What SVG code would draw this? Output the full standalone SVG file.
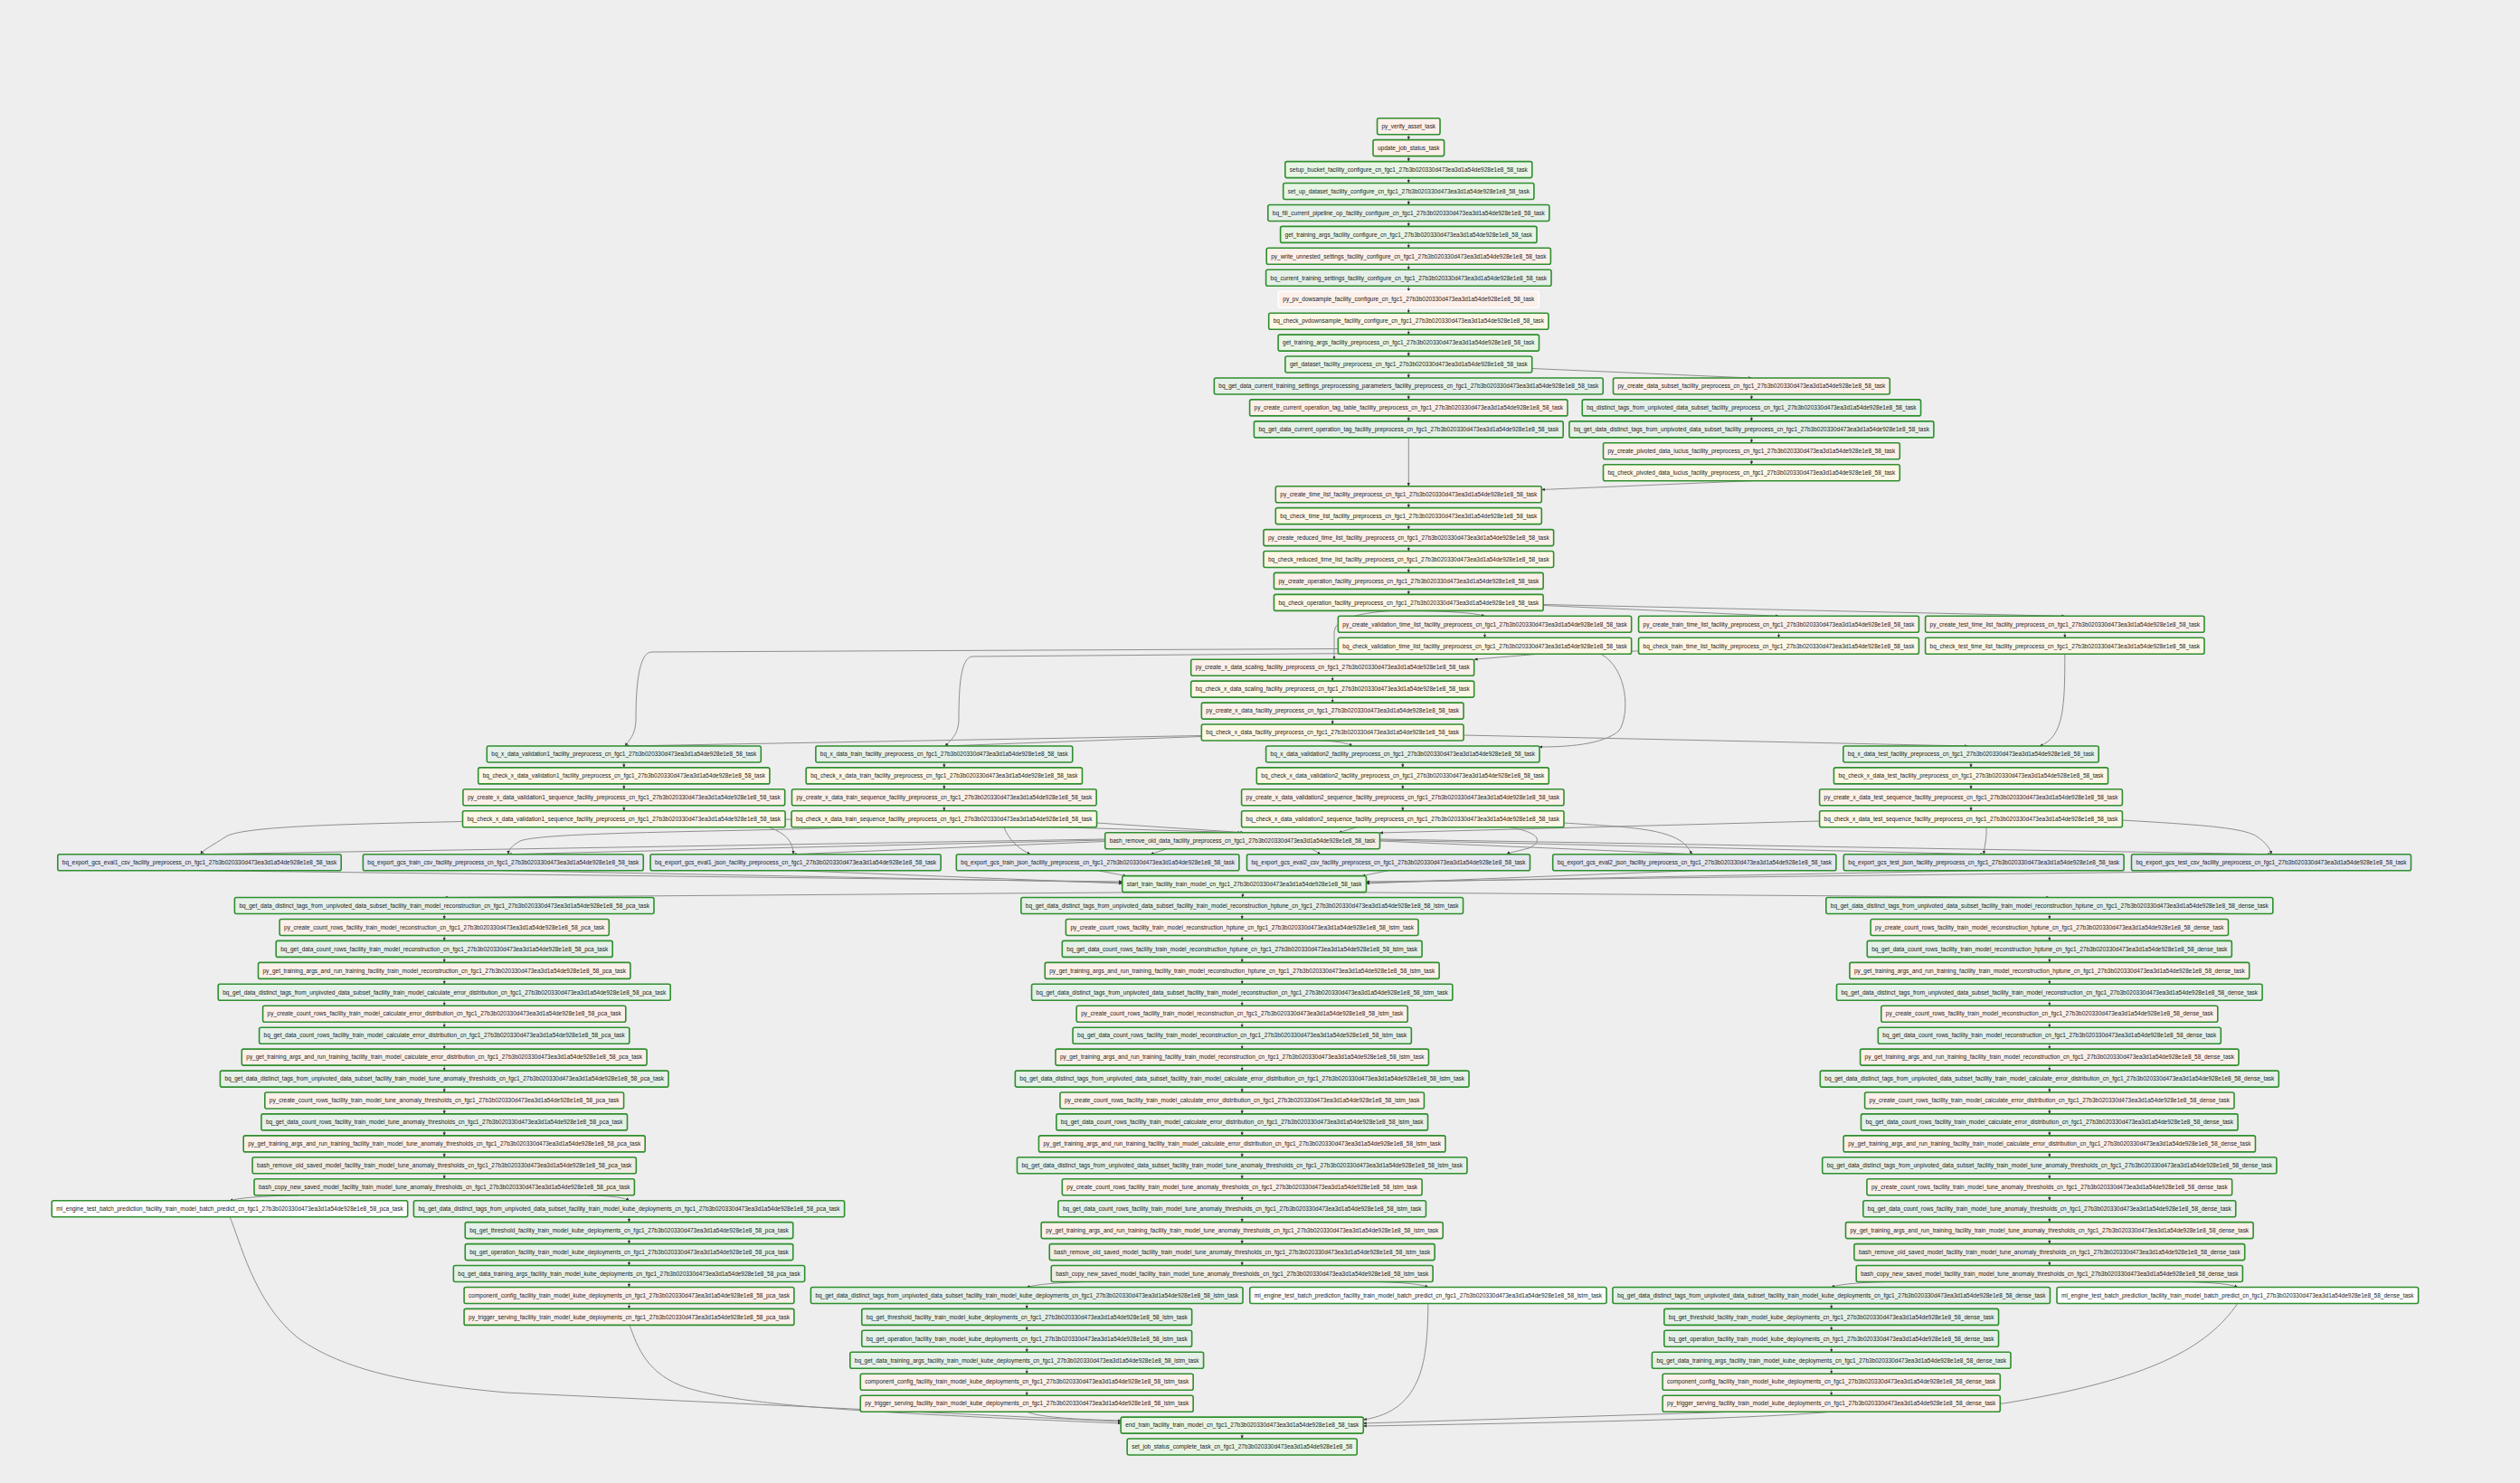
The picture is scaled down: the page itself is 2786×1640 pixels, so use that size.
<svg xmlns="http://www.w3.org/2000/svg" width="2786" height="1640" viewBox="0 0 2786 1640">
<style>
.bg{fill:#eeeeee}
.n rect{stroke:#2f8f2f;stroke-width:1.6;rx:2;ry:2}
.n text{font-family:"Liberation Sans",Arial,sans-serif;font-size:6.4px;fill:#222;text-anchor:middle}
.py rect{fill:#fdefe9}.bq rect{fill:#e5f0e8}.ck rect{fill:#fef7e6}.ex rect{fill:#e4e6f0}.sh rect{fill:#f0ede4}.dm rect{fill:#e8f5e4}.ml rect{fill:#ffffff}
.ns rect{stroke:#ffffff}
#edges path{fill:none;stroke:#8e8e8e;stroke-width:1;marker-end:url(#ah)}
</style>
<defs>
<marker id="ah" viewBox="0 0 10 10" refX="9" refY="5" markerWidth="4" markerHeight="4" markerUnits="userSpaceOnUse" orient="auto"><path d="M0,1 L10,5 L0,9 z" fill="#333"/></marker>
</defs>
<rect class="bg" x="0" y="0" width="2786" height="1640"/>
<g id="edges">
<path d="M1557.3,148.7 L1557.3,154.6"/>
<path d="M1557.3,172.6 L1557.3,178.6"/>
<path d="M1557.3,196.6 L1557.3,202.5"/>
<path d="M1557.3,220.5 L1557.3,226.5"/>
<path d="M1557.3,244.5 L1557.3,250.4"/>
<path d="M1557.3,268.4 L1557.3,274.3"/>
<path d="M1557.3,292.3 L1557.3,298.3"/>
<path d="M1557.3,316.3 L1557.3,322.2"/>
<path d="M1557.3,340.2 L1557.3,346.2"/>
<path d="M1557.3,364.2 L1557.3,370.1"/>
<path d="M1557.3,388.1 L1557.3,394"/>
<path d="M1557.3,412 L1557.3,418"/>
<path d="M1693.7,407.5 L1936.4,418"/>
<path d="M1557.3,436 L1557.3,441.9"/>
<path d="M1557.3,459.9 L1557.3,465.9"/>
<path d="M1557.3,483.9 L1557.3,537.7"/>
<path d="M1936.4,436 L1936.4,441.9"/>
<path d="M1936.4,459.9 L1936.4,465.9"/>
<path d="M1936.4,483.9 L1936.4,489.8"/>
<path d="M1936.4,507.8 L1936.4,513.7"/>
<path d="M1936.4,531.7 L1704.3,541.5"/>
<path d="M1557.3,555.7 L1557.3,561.6"/>
<path d="M1557.3,579.6 L1557.3,585.6"/>
<path d="M1557.3,603.6 L1557.3,609.5"/>
<path d="M1557.3,627.5 L1557.3,633.4"/>
<path d="M1557.3,651.4 L1557.3,657.4"/>
<path d="M1557.3,675.4 Q1625,676 1641.5,681.3"/>
<path d="M1706.2,669.5 L1966.5,681.3"/>
<path d="M1706.2,668.5 L2282.8,681.3"/>
<path d="M1540,675.4 C1495,678 1475,686 1475,700 L1475,729.2"/>
<path d="M1641.5,699.3 L1641.5,705.3"/>
<path d="M1966.5,699.3 L1966.5,705.3"/>
<path d="M2282.8,699.3 L2282.8,705.3"/>
<path d="M1479.3,717.5 L720,721 C706,722 703,760 703,795 C703,813 695,819 691,825"/>
<path d="M1811.5,720 L1075,726 C1062,727 1060,760 1060,795 C1060,813 1050,819 1045,825"/>
<path d="M1770,723.3 C1800,740 1802,790 1790,808 C1772,824 1730,826 1701.7,826"/>
<path d="M1700,723.3 L1630,729.2"/>
<path d="M2282.8,723.3 C2282.8,780 2282,815 2255,825"/>
<path d="M1473.2,747.2 L1473.2,753.1"/>
<path d="M1473.2,771.1 L1473.2,777.1"/>
<path d="M1473.2,795.1 L1473.2,801"/>
<path d="M1328.4,813.5 L691.3,825"/>
<path d="M1328.4,814.5 L1044.9,825"/>
<path d="M1460,819 Q1488,820 1495,825"/>
<path d="M1617.6,813 L2175.5,825"/>
<path d="M689.8,843 L689.8,848.9"/>
<path d="M689.8,866.9 L689.8,872.8"/>
<path d="M689.8,890.8 L689.8,896.8"/>
<path d="M1043.8,843 L1043.8,848.9"/>
<path d="M1043.8,866.9 L1043.8,872.8"/>
<path d="M1043.8,890.8 L1043.8,896.8"/>
<path d="M1550.8,843 L1550.8,848.9"/>
<path d="M1550.8,866.9 L1550.8,872.8"/>
<path d="M1550.8,890.8 L1550.8,896.8"/>
<path d="M2179,843 L2179,848.9"/>
<path d="M2179,866.9 L2179,872.8"/>
<path d="M2179,890.8 L2179,896.8"/>
<path d="M868.1,906 L1372,920.7"/>
<path d="M1212.5,910 L1375,920.7"/>
<path d="M1500,914.8 L1480,920.7"/>
<path d="M2011.6,908 L1525.5,921"/>
<path d="M511.5,908.5 C400,911 270,913 250,925 C235,935 224,940 222,944.7"/>
<path d="M950,914.8 C800,920 600,920 575,930 C565,936 562,940 562,944.7"/>
<path d="M850,914.8 C870,922 877,932 877,944.7"/>
<path d="M1110,914.8 C1115,928 1125,938 1139,944.7"/>
<path d="M1669,914.8 C1700,920 1708,930 1690,938 C1675,942 1668,943 1666,944.7"/>
<path d="M1729,910 C1800,915 1860,915 1870,944.7"/>
<path d="M2196,914.8 C2197,925 2194,935 2193.2,944.7"/>
<path d="M2346.4,907 C2430,912 2480,915 2495,925 C2505,932 2510,938 2511,944.7"/>
<path d="M1221.7,928 L222,944.7"/>
<path d="M1221.7,929 L562,944.7"/>
<path d="M1221.7,930.5 L877,944.7"/>
<path d="M1290,938.7 L1272,944.7"/>
<path d="M1450,938.7 L1460,944.7"/>
<path d="M1525.5,930 L1873,944.7"/>
<path d="M1525.5,929 L2193,944.7"/>
<path d="M1525.5,928 L2511,944.7"/>
<path d="M220.5,962.7 L1240.7,975"/>
<path d="M556.3,962.7 L1240.7,976"/>
<path d="M879.6,962.7 L1240.7,977"/>
<path d="M1213.6,962.7 L1245,968.6"/>
<path d="M1535,962.7 L1506,968.6"/>
<path d="M1873.3,962.7 L1510.5,977"/>
<path d="M2193.2,962.7 L1510.5,976"/>
<path d="M2511,962.7 L1510.5,975"/>
<path d="M1290,986.6 L491.2,992.5"/>
<path d="M1374.5,986.6 L1373.4,992.5"/>
<path d="M1460,986.6 L2265.8,992.5"/>
<path d="M491.2,1010.5 L491.2,1016.5"/>
<path d="M491.2,1034.5 L491.2,1040.4"/>
<path d="M491.2,1058.4 L491.2,1064.4"/>
<path d="M491.2,1082.4 L491.2,1088.3"/>
<path d="M491.2,1106.3 L491.2,1112.2"/>
<path d="M491.2,1130.2 L491.2,1136.2"/>
<path d="M491.2,1154.2 L491.2,1160.1"/>
<path d="M491.2,1178.1 L491.2,1184.1"/>
<path d="M491.2,1202.1 L491.2,1208"/>
<path d="M491.2,1226 L491.2,1231.9"/>
<path d="M491.2,1249.9 L491.2,1255.9"/>
<path d="M491.2,1273.9 L491.2,1279.8"/>
<path d="M491.2,1297.8 L491.2,1303.8"/>
<path d="M330,1321.8 Q270,1323 254,1327.7"/>
<path d="M650,1321.8 Q690,1323 695.5,1327.7"/>
<path d="M695.5,1345.7 L695.5,1351.6"/>
<path d="M695.5,1369.6 L695.5,1375.6"/>
<path d="M695.5,1393.6 L695.5,1399.5"/>
<path d="M695.5,1417.5 L695.5,1423.5"/>
<path d="M695.5,1441.5 L695.5,1447.4"/>
<path d="M254,1345.7 C265,1370 280,1440 330,1480 C380,1515 450,1530 560,1540 L1239.2,1572"/>
<path d="M696,1465.4 C705,1490 715,1520 760,1535 C820,1552 900,1560 1239.2,1574"/>
<path d="M1373.2,1010.5 L1373.2,1016.5"/>
<path d="M1373.2,1034.5 L1373.2,1040.4"/>
<path d="M1373.2,1058.4 L1373.2,1064.4"/>
<path d="M1373.2,1082.4 L1373.2,1088.3"/>
<path d="M1373.2,1106.3 L1373.2,1112.2"/>
<path d="M1373.2,1130.2 L1373.2,1136.2"/>
<path d="M1373.2,1154.2 L1373.2,1160.1"/>
<path d="M1373.2,1178.1 L1373.2,1184.1"/>
<path d="M1373.2,1202.1 L1373.2,1208"/>
<path d="M1373.2,1226 L1373.2,1231.9"/>
<path d="M1373.2,1249.9 L1373.2,1255.9"/>
<path d="M1373.2,1273.9 L1373.2,1279.8"/>
<path d="M1373.2,1297.8 L1373.2,1303.8"/>
<path d="M1373.2,1321.8 L1373.2,1327.7"/>
<path d="M1373.2,1345.7 L1373.2,1351.6"/>
<path d="M1373.2,1369.6 L1373.2,1375.6"/>
<path d="M1373.2,1393.6 L1373.2,1399.5"/>
<path d="M1200,1417.5 Q1150,1419 1135.2,1423.5"/>
<path d="M1525,1417.5 Q1570,1419 1578.9,1423.5"/>
<path d="M1135.2,1441.5 L1135.2,1447.4"/>
<path d="M1135.2,1465.4 L1135.2,1471.3"/>
<path d="M1135.2,1489.3 L1135.2,1495.3"/>
<path d="M1135.2,1513.3 L1135.2,1519.2"/>
<path d="M1135.2,1537.2 L1135.2,1543.2"/>
<path d="M1135.2,1561.2 C1150,1568 1200,1570 1239.2,1571"/>
<path d="M1578.9,1441.5 C1578,1500 1575,1560 1507.2,1570"/>
<path d="M2265.8,1010.5 L2265.8,1016.5"/>
<path d="M2265.8,1034.5 L2265.8,1040.4"/>
<path d="M2265.8,1058.4 L2265.8,1064.4"/>
<path d="M2265.8,1082.4 L2265.8,1088.3"/>
<path d="M2265.8,1106.3 L2265.8,1112.2"/>
<path d="M2265.8,1130.2 L2265.8,1136.2"/>
<path d="M2265.8,1154.2 L2265.8,1160.1"/>
<path d="M2265.8,1178.1 L2265.8,1184.1"/>
<path d="M2265.8,1202.1 L2265.8,1208"/>
<path d="M2265.8,1226 L2265.8,1231.9"/>
<path d="M2265.8,1249.9 L2265.8,1255.9"/>
<path d="M2265.8,1273.9 L2265.8,1279.8"/>
<path d="M2265.8,1297.8 L2265.8,1303.8"/>
<path d="M2265.8,1321.8 L2265.8,1327.7"/>
<path d="M2265.8,1345.7 L2265.8,1351.6"/>
<path d="M2265.8,1369.6 L2265.8,1375.6"/>
<path d="M2265.8,1393.6 L2265.8,1399.5"/>
<path d="M2085,1417.5 Q2035,1419 2024.7,1423.5"/>
<path d="M2420,1417.5 Q2465,1419 2473.8,1423.5"/>
<path d="M2024.7,1441.5 L2024.7,1447.4"/>
<path d="M2024.7,1465.4 L2024.7,1471.3"/>
<path d="M2024.7,1489.3 L2024.7,1495.3"/>
<path d="M2024.7,1513.3 L2024.7,1519.2"/>
<path d="M2024.7,1537.2 L2024.7,1543.2"/>
<path d="M2473.8,1441.5 C2440,1490 2380,1525 2215,1552 L1507.2,1574"/>
<path d="M2024.7,1561.2 C1950,1568 1800,1572 1507.2,1577"/>
<path d="M1373.2,1585.1 L1373.2,1591"/>
</g>
<g id="py_verify_asset_task" class="n py"><rect x="1522.55" y="130.7" width="69.5" height="18"/><text x="1557.3" y="141.9" textLength="59.5" lengthAdjust="spacingAndGlyphs">py_verify_asset_task</text></g>
<g id="update_job_status_task" class="n py"><rect x="1518" y="154.6" width="78.6" height="18"/><text x="1557.3" y="165.8" textLength="68.6" lengthAdjust="spacingAndGlyphs">update_job_status_task</text></g>
<g id="setup_bucket" class="n dm"><rect x="1420.8" y="178.6" width="273" height="18"/><text x="1557.3" y="189.8" textLength="263" lengthAdjust="spacingAndGlyphs">setup_bucket_facility_configure_cn_fgc1_27b3b020330d473ea3d1a54de928e1e8_58_task</text></g>
<g id="set_up_dataset" class="n dm"><rect x="1418.7" y="202.5" width="277.2" height="18"/><text x="1557.3" y="213.7" textLength="267.2" lengthAdjust="spacingAndGlyphs">set_up_dataset_facility_configure_cn_fgc1_27b3b020330d473ea3d1a54de928e1e8_58_task</text></g>
<g id="bq_fill_current_pipeline_op" class="n bq"><rect x="1401.8" y="226.5" width="311" height="18"/><text x="1557.3" y="237.7" textLength="301" lengthAdjust="spacingAndGlyphs">bq_fill_current_pipeline_op_facility_configure_cn_fgc1_27b3b020330d473ea3d1a54de928e1e8_58_task</text></g>
<g id="get_training_args_configure" class="n dm"><rect x="1415.6" y="250.4" width="283.4" height="18"/><text x="1557.3" y="261.6" textLength="273.4" lengthAdjust="spacingAndGlyphs">get_training_args_facility_configure_cn_fgc1_27b3b020330d473ea3d1a54de928e1e8_58_task</text></g>
<g id="py_write_unnested_settings" class="n py"><rect x="1400.2" y="274.3" width="314.2" height="18"/><text x="1557.3" y="285.5" textLength="304.2" lengthAdjust="spacingAndGlyphs">py_write_unnested_settings_facility_configure_cn_fgc1_27b3b020330d473ea3d1a54de928e1e8_58_task</text></g>
<g id="bq_current_training_settings" class="n bq"><rect x="1399.6" y="298.3" width="315.4" height="18"/><text x="1557.3" y="309.5" textLength="305.4" lengthAdjust="spacingAndGlyphs">bq_current_training_settings_facility_configure_cn_fgc1_27b3b020330d473ea3d1a54de928e1e8_58_task</text></g>
<g id="py_pv_downsample" class="n py ns"><rect x="1413.35" y="322.2" width="287.9" height="18"/><text x="1557.3" y="333.4" textLength="277.9" lengthAdjust="spacingAndGlyphs">py_pv_dowsample_facility_configure_cn_fgc1_27b3b020330d473ea3d1a54de928e1e8_58_task</text></g>
<g id="bq_check_pvdownsample" class="n ck"><rect x="1402.7" y="346.2" width="309.2" height="18"/><text x="1557.3" y="357.4" textLength="299.2" lengthAdjust="spacingAndGlyphs">bq_check_pvdownsample_facility_configure_cn_fgc1_27b3b020330d473ea3d1a54de928e1e8_58_task</text></g>
<g id="get_training_args_preprocess" class="n dm"><rect x="1413.1" y="370.1" width="288.4" height="18"/><text x="1557.3" y="381.3" textLength="278.4" lengthAdjust="spacingAndGlyphs">get_training_args_facility_preprocess_cn_fgc1_27b3b020330d473ea3d1a54de928e1e8_58_task</text></g>
<g id="get_dataset" class="n dm"><rect x="1420.9" y="394" width="272.8" height="18"/><text x="1557.3" y="405.2" textLength="262.8" lengthAdjust="spacingAndGlyphs">get_dataset_facility_preprocess_cn_fgc1_27b3b020330d473ea3d1a54de928e1e8_58_task</text></g>
<g id="bq_get_data_current_training_settings" class="n bq"><rect x="1342.35" y="418" width="429.9" height="18"/><text x="1557.3" y="429.2" textLength="419.9" lengthAdjust="spacingAndGlyphs">bq_get_data_current_training_settings_preprocessing_parameters_facility_preprocess_cn_fgc1_27b3b020330d473ea3d1a54de928e1e8_58_task</text></g>
<g id="py_create_data_subset" class="n py"><rect x="1783.5" y="418" width="305.8" height="18"/><text x="1936.4" y="429.2" textLength="295.8" lengthAdjust="spacingAndGlyphs">py_create_data_subset_facility_preprocess_cn_fgc1_27b3b020330d473ea3d1a54de928e1e8_58_task</text></g>
<g id="py_create_current_operation_tag_table" class="n py"><rect x="1381.6" y="441.9" width="351.4" height="18"/><text x="1557.3" y="453.1" textLength="341.4" lengthAdjust="spacingAndGlyphs">py_create_current_operation_tag_table_facility_preprocess_cn_fgc1_27b3b020330d473ea3d1a54de928e1e8_58_task</text></g>
<g id="bq_distinct_tags" class="n bq"><rect x="1749.25" y="441.9" width="374.3" height="18"/><text x="1936.4" y="453.1" textLength="364.3" lengthAdjust="spacingAndGlyphs">bq_distinct_tags_from_unpivoted_data_subset_facility_preprocess_cn_fgc1_27b3b020330d473ea3d1a54de928e1e8_58_task</text></g>
<g id="bq_get_data_current_operation_tag" class="n bq"><rect x="1386.4" y="465.9" width="341.8" height="18"/><text x="1557.3" y="477.1" textLength="331.8" lengthAdjust="spacingAndGlyphs">bq_get_data_current_operation_tag_facility_preprocess_cn_fgc1_27b3b020330d473ea3d1a54de928e1e8_58_task</text></g>
<g id="bq_get_data_distinct_tags_preprocess" class="n bq"><rect x="1734.9" y="465.9" width="403" height="18"/><text x="1936.4" y="477.1" textLength="393" lengthAdjust="spacingAndGlyphs">bq_get_data_distinct_tags_from_unpivoted_data_subset_facility_preprocess_cn_fgc1_27b3b020330d473ea3d1a54de928e1e8_58_task</text></g>
<g id="py_create_pivoted_data_lucius" class="n py"><rect x="1772.5" y="489.8" width="327.8" height="18"/><text x="1936.4" y="501" textLength="317.8" lengthAdjust="spacingAndGlyphs">py_create_pivoted_data_lucius_facility_preprocess_cn_fgc1_27b3b020330d473ea3d1a54de928e1e8_58_task</text></g>
<g id="bq_check_pivoted_data_lucius" class="n ck"><rect x="1772.5" y="513.7" width="327.8" height="18"/><text x="1936.4" y="524.9" textLength="317.8" lengthAdjust="spacingAndGlyphs">bq_check_pivoted_data_lucius_facility_preprocess_cn_fgc1_27b3b020330d473ea3d1a54de928e1e8_58_task</text></g>
<g id="py_create_time_list" class="n py"><rect x="1410.3" y="537.7" width="294" height="18"/><text x="1557.3" y="548.9" textLength="284" lengthAdjust="spacingAndGlyphs">py_create_time_list_facility_preprocess_cn_fgc1_27b3b020330d473ea3d1a54de928e1e8_58_task</text></g>
<g id="bq_check_time_list" class="n ck"><rect x="1410.3" y="561.6" width="294" height="18"/><text x="1557.3" y="572.8" textLength="284" lengthAdjust="spacingAndGlyphs">bq_check_time_list_facility_preprocess_cn_fgc1_27b3b020330d473ea3d1a54de928e1e8_58_task</text></g>
<g id="py_create_reduced_time_list" class="n py"><rect x="1396.95" y="585.6" width="320.7" height="18"/><text x="1557.3" y="596.8" textLength="310.7" lengthAdjust="spacingAndGlyphs">py_create_reduced_time_list_facility_preprocess_cn_fgc1_27b3b020330d473ea3d1a54de928e1e8_58_task</text></g>
<g id="bq_check_reduced_time_list" class="n ck"><rect x="1396.95" y="609.5" width="320.7" height="18"/><text x="1557.3" y="620.7" textLength="310.7" lengthAdjust="spacingAndGlyphs">bq_check_reduced_time_list_facility_preprocess_cn_fgc1_27b3b020330d473ea3d1a54de928e1e8_58_task</text></g>
<g id="py_create_operation" class="n py"><rect x="1408.45" y="633.4" width="297.7" height="18"/><text x="1557.3" y="644.6" textLength="287.7" lengthAdjust="spacingAndGlyphs">py_create_operation_facility_preprocess_cn_fgc1_27b3b020330d473ea3d1a54de928e1e8_58_task</text></g>
<g id="bq_check_operation" class="n ck"><rect x="1408.45" y="657.4" width="297.7" height="18"/><text x="1557.3" y="668.6" textLength="287.7" lengthAdjust="spacingAndGlyphs">bq_check_operation_facility_preprocess_cn_fgc1_27b3b020330d473ea3d1a54de928e1e8_58_task</text></g>
<g id="py_create_validation_time_list" class="n py"><rect x="1479.35" y="681.3" width="324.3" height="18"/><text x="1641.5" y="692.5" textLength="314.3" lengthAdjust="spacingAndGlyphs">py_create_validation_time_list_facility_preprocess_cn_fgc1_27b3b020330d473ea3d1a54de928e1e8_58_task</text></g>
<g id="py_create_train_time_list" class="n py"><rect x="1811.55" y="681.3" width="309.9" height="18"/><text x="1966.5" y="692.5" textLength="299.9" lengthAdjust="spacingAndGlyphs">py_create_train_time_list_facility_preprocess_cn_fgc1_27b3b020330d473ea3d1a54de928e1e8_58_task</text></g>
<g id="py_create_test_time_list" class="n py"><rect x="2128.6" y="681.3" width="308.4" height="18"/><text x="2282.8" y="692.5" textLength="298.4" lengthAdjust="spacingAndGlyphs">py_create_test_time_list_facility_preprocess_cn_fgc1_27b3b020330d473ea3d1a54de928e1e8_58_task</text></g>
<g id="bq_check_validation_time_list" class="n ck"><rect x="1479.35" y="705.3" width="324.3" height="18"/><text x="1641.5" y="716.5" textLength="314.3" lengthAdjust="spacingAndGlyphs">bq_check_validation_time_list_facility_preprocess_cn_fgc1_27b3b020330d473ea3d1a54de928e1e8_58_task</text></g>
<g id="bq_check_train_time_list" class="n ck"><rect x="1811.55" y="705.3" width="309.9" height="18"/><text x="1966.5" y="716.5" textLength="299.9" lengthAdjust="spacingAndGlyphs">bq_check_train_time_list_facility_preprocess_cn_fgc1_27b3b020330d473ea3d1a54de928e1e8_58_task</text></g>
<g id="bq_check_test_time_list" class="n ck"><rect x="2128.6" y="705.3" width="308.4" height="18"/><text x="2282.8" y="716.5" textLength="298.4" lengthAdjust="spacingAndGlyphs">bq_check_test_time_list_facility_preprocess_cn_fgc1_27b3b020330d473ea3d1a54de928e1e8_58_task</text></g>
<g id="py_create_x_data_scaling" class="n py"><rect x="1316.7" y="729.2" width="313" height="18"/><text x="1473.2" y="740.4" textLength="303" lengthAdjust="spacingAndGlyphs">py_create_x_data_scaling_facility_preprocess_cn_fgc1_27b3b020330d473ea3d1a54de928e1e8_58_task</text></g>
<g id="bq_check_x_data_scaling" class="n ck"><rect x="1316.7" y="753.1" width="313" height="18"/><text x="1473.2" y="764.3" textLength="303" lengthAdjust="spacingAndGlyphs">bq_check_x_data_scaling_facility_preprocess_cn_fgc1_27b3b020330d473ea3d1a54de928e1e8_58_task</text></g>
<g id="py_create_x_data" class="n py"><rect x="1328.35" y="777.1" width="289.7" height="18"/><text x="1473.2" y="788.3" textLength="279.7" lengthAdjust="spacingAndGlyphs">py_create_x_data_facility_preprocess_cn_fgc1_27b3b020330d473ea3d1a54de928e1e8_58_task</text></g>
<g id="bq_check_x_data" class="n ck"><rect x="1328.35" y="801" width="289.7" height="18"/><text x="1473.2" y="812.2" textLength="279.7" lengthAdjust="spacingAndGlyphs">bq_check_x_data_facility_preprocess_cn_fgc1_27b3b020330d473ea3d1a54de928e1e8_58_task</text></g>
<g id="bq_x_data_validation1" class="n bq"><rect x="538.3" y="825" width="303" height="18"/><text x="689.8" y="836.2" textLength="293" lengthAdjust="spacingAndGlyphs">bq_x_data_validation1_facility_preprocess_cn_fgc1_27b3b020330d473ea3d1a54de928e1e8_58_task</text></g>
<g id="bq_x_data_train" class="n bq"><rect x="901.85" y="825" width="283.9" height="18"/><text x="1043.8" y="836.2" textLength="273.9" lengthAdjust="spacingAndGlyphs">bq_x_data_train_facility_preprocess_cn_fgc1_27b3b020330d473ea3d1a54de928e1e8_58_task</text></g>
<g id="bq_x_data_validation2" class="n bq"><rect x="1399.6" y="825" width="302.4" height="18"/><text x="1550.8" y="836.2" textLength="292.4" lengthAdjust="spacingAndGlyphs">bq_x_data_validation2_facility_preprocess_cn_fgc1_27b3b020330d473ea3d1a54de928e1e8_58_task</text></g>
<g id="bq_x_data_test" class="n bq"><rect x="2037.8" y="825" width="282.4" height="18"/><text x="2179" y="836.2" textLength="272.4" lengthAdjust="spacingAndGlyphs">bq_x_data_test_facility_preprocess_cn_fgc1_27b3b020330d473ea3d1a54de928e1e8_58_task</text></g>
<g id="bq_check_x_data_validation1" class="n ck"><rect x="528.7" y="848.9" width="322.2" height="18"/><text x="689.8" y="860.1" textLength="312.2" lengthAdjust="spacingAndGlyphs">bq_check_x_data_validation1_facility_preprocess_cn_fgc1_27b3b020330d473ea3d1a54de928e1e8_58_task</text></g>
<g id="bq_check_x_data_train" class="n ck"><rect x="891.15" y="848.9" width="305.3" height="18"/><text x="1043.8" y="860.1" textLength="295.3" lengthAdjust="spacingAndGlyphs">bq_check_x_data_train_facility_preprocess_cn_fgc1_27b3b020330d473ea3d1a54de928e1e8_58_task</text></g>
<g id="bq_check_x_data_validation2" class="n ck"><rect x="1389.3" y="848.9" width="323" height="18"/><text x="1550.8" y="860.1" textLength="313" lengthAdjust="spacingAndGlyphs">bq_check_x_data_validation2_facility_preprocess_cn_fgc1_27b3b020330d473ea3d1a54de928e1e8_58_task</text></g>
<g id="bq_check_x_data_test" class="n ck"><rect x="2027.45" y="848.9" width="303.1" height="18"/><text x="2179" y="860.1" textLength="293.1" lengthAdjust="spacingAndGlyphs">bq_check_x_data_test_facility_preprocess_cn_fgc1_27b3b020330d473ea3d1a54de928e1e8_58_task</text></g>
<g id="py_create_x_data_validation1_sequence" class="n py"><rect x="511.9" y="872.8" width="355.8" height="18"/><text x="689.8" y="884" textLength="345.8" lengthAdjust="spacingAndGlyphs">py_create_x_data_validation1_sequence_facility_preprocess_cn_fgc1_27b3b020330d473ea3d1a54de928e1e8_58_task</text></g>
<g id="py_create_x_data_train_sequence" class="n py"><rect x="875.45" y="872.8" width="336.7" height="18"/><text x="1043.8" y="884" textLength="326.7" lengthAdjust="spacingAndGlyphs">py_create_x_data_train_sequence_facility_preprocess_cn_fgc1_27b3b020330d473ea3d1a54de928e1e8_58_task</text></g>
<g id="py_create_x_data_validation2_sequence" class="n py"><rect x="1372.6" y="872.8" width="356.4" height="18"/><text x="1550.8" y="884" textLength="346.4" lengthAdjust="spacingAndGlyphs">py_create_x_data_validation2_sequence_facility_preprocess_cn_fgc1_27b3b020330d473ea3d1a54de928e1e8_58_task</text></g>
<g id="py_create_x_data_test_sequence" class="n py"><rect x="2011.6" y="872.8" width="334.8" height="18"/><text x="2179" y="884" textLength="324.8" lengthAdjust="spacingAndGlyphs">py_create_x_data_test_sequence_facility_preprocess_cn_fgc1_27b3b020330d473ea3d1a54de928e1e8_58_task</text></g>
<g id="bq_check_x_data_validation1_sequence" class="n ck"><rect x="511.5" y="896.8" width="356.6" height="18"/><text x="689.8" y="908" textLength="346.6" lengthAdjust="spacingAndGlyphs">bq_check_x_data_validation1_sequence_facility_preprocess_cn_fgc1_27b3b020330d473ea3d1a54de928e1e8_58_task</text></g>
<g id="bq_check_x_data_train_sequence" class="n ck"><rect x="875.05" y="896.8" width="337.5" height="18"/><text x="1043.8" y="908" textLength="327.5" lengthAdjust="spacingAndGlyphs">bq_check_x_data_train_sequence_facility_preprocess_cn_fgc1_27b3b020330d473ea3d1a54de928e1e8_58_task</text></g>
<g id="bq_check_x_data_validation2_sequence" class="n ck"><rect x="1372.6" y="896.8" width="356.4" height="18"/><text x="1550.8" y="908" textLength="346.4" lengthAdjust="spacingAndGlyphs">bq_check_x_data_validation2_sequence_facility_preprocess_cn_fgc1_27b3b020330d473ea3d1a54de928e1e8_58_task</text></g>
<g id="bq_check_x_data_test_sequence" class="n ck"><rect x="2011.6" y="896.8" width="334.8" height="18"/><text x="2179" y="908" textLength="324.8" lengthAdjust="spacingAndGlyphs">bq_check_x_data_test_sequence_facility_preprocess_cn_fgc1_27b3b020330d473ea3d1a54de928e1e8_58_task</text></g>
<g id="bash_remove_old_data" class="n sh"><rect x="1221.7" y="920.7" width="303.8" height="18"/><text x="1373.6" y="931.9" textLength="293.8" lengthAdjust="spacingAndGlyphs">bash_remove_old_data_facility_preprocess_cn_fgc1_27b3b020330d473ea3d1a54de928e1e8_58_task</text></g>
<g id="bq_export_gcs_eval1_csv" class="n ex"><rect x="63.8" y="944.7" width="313.4" height="18"/><text x="220.5" y="955.9" textLength="303.4" lengthAdjust="spacingAndGlyphs">bq_export_gcs_eval1_csv_facility_preprocess_cn_fgc1_27b3b020330d473ea3d1a54de928e1e8_58_task</text></g>
<g id="bq_export_gcs_train_csv" class="n ex"><rect x="401.35" y="944.7" width="309.9" height="18"/><text x="556.3" y="955.9" textLength="299.9" lengthAdjust="spacingAndGlyphs">bq_export_gcs_train_csv_facility_preprocess_cn_fgc1_27b3b020330d473ea3d1a54de928e1e8_58_task</text></g>
<g id="bq_export_gcs_eval1_json" class="n ex"><rect x="719.05" y="944.7" width="321.1" height="18"/><text x="879.6" y="955.9" textLength="311.1" lengthAdjust="spacingAndGlyphs">bq_export_gcs_eval1_json_facility_preprocess_cn_fgc1_27b3b020330d473ea3d1a54de928e1e8_58_task</text></g>
<g id="bq_export_gcs_train_json" class="n ex"><rect x="1057.3" y="944.7" width="312.6" height="18"/><text x="1213.6" y="955.9" textLength="302.6" lengthAdjust="spacingAndGlyphs">bq_export_gcs_train_json_facility_preprocess_cn_fgc1_27b3b020330d473ea3d1a54de928e1e8_58_task</text></g>
<g id="bq_export_gcs_eval2_csv" class="n ex"><rect x="1378.5" y="944.7" width="313" height="18"/><text x="1535" y="955.9" textLength="303" lengthAdjust="spacingAndGlyphs">bq_export_gcs_eval2_csv_facility_preprocess_cn_fgc1_27b3b020330d473ea3d1a54de928e1e8_58_task</text></g>
<g id="bq_export_gcs_eval2_json" class="n ex"><rect x="1716.7" y="944.7" width="313.2" height="18"/><text x="1873.3" y="955.9" textLength="303.2" lengthAdjust="spacingAndGlyphs">bq_export_gcs_eval2_json_facility_preprocess_cn_fgc1_27b3b020330d473ea3d1a54de928e1e8_58_task</text></g>
<g id="bq_export_gcs_test_json" class="n ex"><rect x="2038.3" y="944.7" width="309.8" height="18"/><text x="2193.2" y="955.9" textLength="299.8" lengthAdjust="spacingAndGlyphs">bq_export_gcs_test_json_facility_preprocess_cn_fgc1_27b3b020330d473ea3d1a54de928e1e8_58_task</text></g>
<g id="bq_export_gcs_test_csv" class="n ex"><rect x="2356.5" y="944.7" width="309" height="18"/><text x="2511" y="955.9" textLength="299" lengthAdjust="spacingAndGlyphs">bq_export_gcs_test_csv_facility_preprocess_cn_fgc1_27b3b020330d473ea3d1a54de928e1e8_58_task</text></g>
<g id="start_train" class="n dm"><rect x="1240.7" y="968.6" width="269.8" height="18"/><text x="1375.6" y="979.8" textLength="259.8" lengthAdjust="spacingAndGlyphs">start_train_facility_train_model_cn_fgc1_27b3b020330d473ea3d1a54de928e1e8_58_task</text></g>
<g id="pca_column">
<g id="pca_r36" class="n bq"><rect x="259.4" y="992.5" width="463.6" height="18"/><text x="491.2" y="1003.7" textLength="453.6" lengthAdjust="spacingAndGlyphs">bq_get_data_distinct_tags_from_unpivoted_data_subset_facility_train_model_reconstruction_cn_fgc1_27b3b020330d473ea3d1a54de928e1e8_58_pca_task</text></g>
<g id="pca_r37" class="n py"><rect x="309.1" y="1016.5" width="364.2" height="18"/><text x="491.2" y="1027.7" textLength="354.2" lengthAdjust="spacingAndGlyphs">py_create_count_rows_facility_train_model_reconstruction_cn_fgc1_27b3b020330d473ea3d1a54de928e1e8_58_pca_task</text></g>
<g id="pca_r38" class="n bq"><rect x="305.2" y="1040.4" width="372" height="18"/><text x="491.2" y="1051.6" textLength="362" lengthAdjust="spacingAndGlyphs">bq_get_data_count_rows_facility_train_model_reconstruction_cn_fgc1_27b3b020330d473ea3d1a54de928e1e8_58_pca_task</text></g>
<g id="pca_r39" class="n py"><rect x="285.5" y="1064.4" width="411.4" height="18"/><text x="491.2" y="1075.6" textLength="401.4" lengthAdjust="spacingAndGlyphs">py_get_training_args_and_run_training_facility_train_model_reconstruction_cn_fgc1_27b3b020330d473ea3d1a54de928e1e8_58_pca_task</text></g>
<g id="pca_r40" class="n bq"><rect x="241.2" y="1088.3" width="500" height="18"/><text x="491.2" y="1099.5" textLength="490" lengthAdjust="spacingAndGlyphs">bq_get_data_distinct_tags_from_unpivoted_data_subset_facility_train_model_calculate_error_distribution_cn_fgc1_27b3b020330d473ea3d1a54de928e1e8_58_pca_task</text></g>
<g id="pca_r41" class="n py"><rect x="290.6" y="1112.2" width="401.2" height="18"/><text x="491.2" y="1123.4" textLength="391.2" lengthAdjust="spacingAndGlyphs">py_create_count_rows_facility_train_model_calculate_error_distribution_cn_fgc1_27b3b020330d473ea3d1a54de928e1e8_58_pca_task</text></g>
<g id="pca_r42" class="n bq"><rect x="286.6" y="1136.2" width="409.2" height="18"/><text x="491.2" y="1147.4" textLength="399.2" lengthAdjust="spacingAndGlyphs">bq_get_data_count_rows_facility_train_model_calculate_error_distribution_cn_fgc1_27b3b020330d473ea3d1a54de928e1e8_58_pca_task</text></g>
<g id="pca_r43" class="n py"><rect x="267.3" y="1160.1" width="447.8" height="18"/><text x="491.2" y="1171.3" textLength="437.8" lengthAdjust="spacingAndGlyphs">py_get_training_args_and_run_training_facility_train_model_calculate_error_distribution_cn_fgc1_27b3b020330d473ea3d1a54de928e1e8_58_pca_task</text></g>
<g id="pca_r44" class="n bq"><rect x="243.4" y="1184.1" width="495.6" height="18"/><text x="491.2" y="1195.3" textLength="485.6" lengthAdjust="spacingAndGlyphs">bq_get_data_distinct_tags_from_unpivoted_data_subset_facility_train_model_tune_anomaly_thresholds_cn_fgc1_27b3b020330d473ea3d1a54de928e1e8_58_pca_task</text></g>
<g id="pca_r45" class="n py"><rect x="292.8" y="1208" width="396.8" height="18"/><text x="491.2" y="1219.2" textLength="386.8" lengthAdjust="spacingAndGlyphs">py_create_count_rows_facility_train_model_tune_anomaly_thresholds_cn_fgc1_27b3b020330d473ea3d1a54de928e1e8_58_pca_task</text></g>
<g id="pca_r46" class="n bq"><rect x="288.9" y="1231.9" width="404.6" height="18"/><text x="491.2" y="1243.1" textLength="394.6" lengthAdjust="spacingAndGlyphs">bq_get_data_count_rows_facility_train_model_tune_anomaly_thresholds_cn_fgc1_27b3b020330d473ea3d1a54de928e1e8_58_pca_task</text></g>
<g id="pca_r47" class="n py"><rect x="269.2" y="1255.9" width="444" height="18"/><text x="491.2" y="1267.1" textLength="434" lengthAdjust="spacingAndGlyphs">py_get_training_args_and_run_training_facility_train_model_tune_anomaly_thresholds_cn_fgc1_27b3b020330d473ea3d1a54de928e1e8_58_pca_task</text></g>
<g id="pca_r48" class="n sh"><rect x="279.05" y="1279.8" width="424.3" height="18"/><text x="491.2" y="1291" textLength="414.3" lengthAdjust="spacingAndGlyphs">bash_remove_old_saved_model_facility_train_model_tune_anomaly_thresholds_cn_fgc1_27b3b020330d473ea3d1a54de928e1e8_58_pca_task</text></g>
<g id="pca_r49" class="n sh"><rect x="281" y="1303.8" width="420.4" height="18"/><text x="491.2" y="1315" textLength="410.4" lengthAdjust="spacingAndGlyphs">bash_copy_new_saved_model_facility_train_model_tune_anomaly_thresholds_cn_fgc1_27b3b020330d473ea3d1a54de928e1e8_58_pca_task</text></g>
<g id="pca_ml_engine" class="n ml"><rect x="57.3" y="1327.7" width="393.4" height="18"/><text x="254" y="1338.9" textLength="383.4" lengthAdjust="spacingAndGlyphs">ml_engine_test_batch_prediction_facility_train_model_batch_predict_cn_fgc1_27b3b020330d473ea3d1a54de928e1e8_58_pca_task</text></g>
<g id="pca_kube_distinct" class="n bq"><rect x="457.4" y="1327.7" width="476.2" height="18"/><text x="695.5" y="1338.9" textLength="466.2" lengthAdjust="spacingAndGlyphs">bq_get_data_distinct_tags_from_unpivoted_data_subset_facility_train_model_kube_deployments_cn_fgc1_27b3b020330d473ea3d1a54de928e1e8_58_pca_task</text></g>
<g id="pca_threshold" class="n bq"><rect x="514.25" y="1351.6" width="362.5" height="18"/><text x="695.5" y="1362.8" textLength="352.5" lengthAdjust="spacingAndGlyphs">bq_get_threshold_facility_train_model_kube_deployments_cn_fgc1_27b3b020330d473ea3d1a54de928e1e8_58_pca_task</text></g>
<g id="pca_operation" class="n bq"><rect x="514.25" y="1375.6" width="362.5" height="18"/><text x="695.5" y="1386.8" textLength="352.5" lengthAdjust="spacingAndGlyphs">bq_get_operation_facility_train_model_kube_deployments_cn_fgc1_27b3b020330d473ea3d1a54de928e1e8_58_pca_task</text></g>
<g id="pca_training_args" class="n bq"><rect x="501.35" y="1399.5" width="388.3" height="18"/><text x="695.5" y="1410.7" textLength="378.3" lengthAdjust="spacingAndGlyphs">bq_get_data_training_args_facility_train_model_kube_deployments_cn_fgc1_27b3b020330d473ea3d1a54de928e1e8_58_pca_task</text></g>
<g id="pca_component_config" class="n py"><rect x="513.1" y="1423.5" width="364.8" height="18"/><text x="695.5" y="1434.7" textLength="354.8" lengthAdjust="spacingAndGlyphs">component_config_facility_train_model_kube_deployments_cn_fgc1_27b3b020330d473ea3d1a54de928e1e8_58_pca_task</text></g>
<g id="pca_trigger_serving" class="n py"><rect x="513.1" y="1447.4" width="364.8" height="18"/><text x="695.5" y="1458.6" textLength="354.8" lengthAdjust="spacingAndGlyphs">py_trigger_serving_facility_train_model_kube_deployments_cn_fgc1_27b3b020330d473ea3d1a54de928e1e8_58_pca_task</text></g>
</g>
<g id="lstm_column">
<g id="lstm_r36" class="n bq"><rect x="1128.85" y="992.5" width="488.7" height="18"/><text x="1373.2" y="1003.7" textLength="478.7" lengthAdjust="spacingAndGlyphs">bq_get_data_distinct_tags_from_unpivoted_data_subset_facility_train_model_reconstruction_hptune_cn_fgc1_27b3b020330d473ea3d1a54de928e1e8_58_lstm_task</text></g>
<g id="lstm_r37" class="n py"><rect x="1178.4" y="1016.5" width="389.6" height="18"/><text x="1373.2" y="1027.7" textLength="379.6" lengthAdjust="spacingAndGlyphs">py_create_count_rows_facility_train_model_reconstruction_hptune_cn_fgc1_27b3b020330d473ea3d1a54de928e1e8_58_lstm_task</text></g>
<g id="lstm_r38" class="n bq"><rect x="1174.3" y="1040.4" width="397.8" height="18"/><text x="1373.2" y="1051.6" textLength="387.8" lengthAdjust="spacingAndGlyphs">bq_get_data_count_rows_facility_train_model_reconstruction_hptune_cn_fgc1_27b3b020330d473ea3d1a54de928e1e8_58_lstm_task</text></g>
<g id="lstm_r39" class="n py"><rect x="1155.25" y="1064.4" width="435.9" height="18"/><text x="1373.2" y="1075.6" textLength="425.9" lengthAdjust="spacingAndGlyphs">py_get_training_args_and_run_training_facility_train_model_reconstruction_hptune_cn_fgc1_27b3b020330d473ea3d1a54de928e1e8_58_lstm_task</text></g>
<g id="lstm_r40" class="n bq"><rect x="1140.55" y="1088.3" width="465.3" height="18"/><text x="1373.2" y="1099.5" textLength="455.3" lengthAdjust="spacingAndGlyphs">bq_get_data_distinct_tags_from_unpivoted_data_subset_facility_train_model_reconstruction_cn_fgc1_27b3b020330d473ea3d1a54de928e1e8_58_lstm_task</text></g>
<g id="lstm_r41" class="n py"><rect x="1190.15" y="1112.2" width="366.1" height="18"/><text x="1373.2" y="1123.4" textLength="356.1" lengthAdjust="spacingAndGlyphs">py_create_count_rows_facility_train_model_reconstruction_cn_fgc1_27b3b020330d473ea3d1a54de928e1e8_58_lstm_task</text></g>
<g id="lstm_r42" class="n bq"><rect x="1186.05" y="1136.2" width="374.3" height="18"/><text x="1373.2" y="1147.4" textLength="364.3" lengthAdjust="spacingAndGlyphs">bq_get_data_count_rows_facility_train_model_reconstruction_cn_fgc1_27b3b020330d473ea3d1a54de928e1e8_58_lstm_task</text></g>
<g id="lstm_r43" class="n py"><rect x="1166.95" y="1160.1" width="412.5" height="18"/><text x="1373.2" y="1171.3" textLength="402.5" lengthAdjust="spacingAndGlyphs">py_get_training_args_and_run_training_facility_train_model_reconstruction_cn_fgc1_27b3b020330d473ea3d1a54de928e1e8_58_lstm_task</text></g>
<g id="lstm_r44" class="n bq"><rect x="1122.35" y="1184.1" width="501.7" height="18"/><text x="1373.2" y="1195.3" textLength="491.7" lengthAdjust="spacingAndGlyphs">bq_get_data_distinct_tags_from_unpivoted_data_subset_facility_train_model_calculate_error_distribution_cn_fgc1_27b3b020330d473ea3d1a54de928e1e8_58_lstm_task</text></g>
<g id="lstm_r45" class="n py"><rect x="1171.95" y="1208" width="402.5" height="18"/><text x="1373.2" y="1219.2" textLength="392.5" lengthAdjust="spacingAndGlyphs">py_create_count_rows_facility_train_model_calculate_error_distribution_cn_fgc1_27b3b020330d473ea3d1a54de928e1e8_58_lstm_task</text></g>
<g id="lstm_r46" class="n bq"><rect x="1167.85" y="1231.9" width="410.7" height="18"/><text x="1373.2" y="1243.1" textLength="400.7" lengthAdjust="spacingAndGlyphs">bq_get_data_count_rows_facility_train_model_calculate_error_distribution_cn_fgc1_27b3b020330d473ea3d1a54de928e1e8_58_lstm_task</text></g>
<g id="lstm_r47" class="n py"><rect x="1148.45" y="1255.9" width="449.5" height="18"/><text x="1373.2" y="1267.1" textLength="439.5" lengthAdjust="spacingAndGlyphs">py_get_training_args_and_run_training_facility_train_model_calculate_error_distribution_cn_fgc1_27b3b020330d473ea3d1a54de928e1e8_58_lstm_task</text></g>
<g id="lstm_r48" class="n bq"><rect x="1124.45" y="1279.8" width="497.5" height="18"/><text x="1373.2" y="1291" textLength="487.5" lengthAdjust="spacingAndGlyphs">bq_get_data_distinct_tags_from_unpivoted_data_subset_facility_train_model_tune_anomaly_thresholds_cn_fgc1_27b3b020330d473ea3d1a54de928e1e8_58_lstm_task</text></g>
<g id="lstm_r49" class="n py"><rect x="1174.3" y="1303.8" width="397.8" height="18"/><text x="1373.2" y="1315" textLength="387.8" lengthAdjust="spacingAndGlyphs">py_create_count_rows_facility_train_model_tune_anomaly_thresholds_cn_fgc1_27b3b020330d473ea3d1a54de928e1e8_58_lstm_task</text></g>
<g id="lstm_r50" class="n bq"><rect x="1169.9" y="1327.7" width="406.6" height="18"/><text x="1373.2" y="1338.9" textLength="396.6" lengthAdjust="spacingAndGlyphs">bq_get_data_count_rows_facility_train_model_tune_anomaly_thresholds_cn_fgc1_27b3b020330d473ea3d1a54de928e1e8_58_lstm_task</text></g>
<g id="lstm_r51" class="n py"><rect x="1151.15" y="1351.6" width="444.1" height="18"/><text x="1373.2" y="1362.8" textLength="434.1" lengthAdjust="spacingAndGlyphs">py_get_training_args_and_run_training_facility_train_model_tune_anomaly_thresholds_cn_fgc1_27b3b020330d473ea3d1a54de928e1e8_58_lstm_task</text></g>
<g id="lstm_r52" class="n sh"><rect x="1160.25" y="1375.6" width="425.9" height="18"/><text x="1373.2" y="1386.8" textLength="415.9" lengthAdjust="spacingAndGlyphs">bash_remove_old_saved_model_facility_train_model_tune_anomaly_thresholds_cn_fgc1_27b3b020330d473ea3d1a54de928e1e8_58_lstm_task</text></g>
<g id="lstm_r53" class="n sh"><rect x="1162.25" y="1399.5" width="421.9" height="18"/><text x="1373.2" y="1410.7" textLength="411.9" lengthAdjust="spacingAndGlyphs">bash_copy_new_saved_model_facility_train_model_tune_anomaly_thresholds_cn_fgc1_27b3b020330d473ea3d1a54de928e1e8_58_lstm_task</text></g>
<g id="lstm_kube_distinct" class="n bq"><rect x="896.4" y="1423.5" width="477.6" height="18"/><text x="1135.2" y="1434.7" textLength="467.6" lengthAdjust="spacingAndGlyphs">bq_get_data_distinct_tags_from_unpivoted_data_subset_facility_train_model_kube_deployments_cn_fgc1_27b3b020330d473ea3d1a54de928e1e8_58_lstm_task</text></g>
<g id="lstm_ml_engine" class="n ml"><rect x="1381.75" y="1423.5" width="394.3" height="18"/><text x="1578.9" y="1434.7" textLength="384.3" lengthAdjust="spacingAndGlyphs">ml_engine_test_batch_prediction_facility_train_model_batch_predict_cn_fgc1_27b3b020330d473ea3d1a54de928e1e8_58_lstm_task</text></g>
<g id="lstm_threshold" class="n bq"><rect x="952.75" y="1447.4" width="364.9" height="18"/><text x="1135.2" y="1458.6" textLength="354.9" lengthAdjust="spacingAndGlyphs">bq_get_threshold_facility_train_model_kube_deployments_cn_fgc1_27b3b020330d473ea3d1a54de928e1e8_58_lstm_task</text></g>
<g id="lstm_operation" class="n bq"><rect x="952.75" y="1471.3" width="364.9" height="18"/><text x="1135.2" y="1482.5" textLength="354.9" lengthAdjust="spacingAndGlyphs">bq_get_operation_facility_train_model_kube_deployments_cn_fgc1_27b3b020330d473ea3d1a54de928e1e8_58_lstm_task</text></g>
<g id="lstm_training_args" class="n bq"><rect x="939.8" y="1495.3" width="390.8" height="18"/><text x="1135.2" y="1506.5" textLength="380.8" lengthAdjust="spacingAndGlyphs">bq_get_data_training_args_facility_train_model_kube_deployments_cn_fgc1_27b3b020330d473ea3d1a54de928e1e8_58_lstm_task</text></g>
<g id="lstm_component_config" class="n py"><rect x="951.25" y="1519.2" width="367.9" height="18"/><text x="1135.2" y="1530.4" textLength="357.9" lengthAdjust="spacingAndGlyphs">component_config_facility_train_model_kube_deployments_cn_fgc1_27b3b020330d473ea3d1a54de928e1e8_58_lstm_task</text></g>
<g id="lstm_trigger_serving" class="n py"><rect x="951.25" y="1543.2" width="367.9" height="18"/><text x="1135.2" y="1554.4" textLength="357.9" lengthAdjust="spacingAndGlyphs">py_trigger_serving_facility_train_model_kube_deployments_cn_fgc1_27b3b020330d473ea3d1a54de928e1e8_58_lstm_task</text></g>
</g>
<g id="dense_column">
<g id="dense_r36" class="n bq"><rect x="2018.8" y="992.5" width="494" height="18"/><text x="2265.8" y="1003.7" textLength="484" lengthAdjust="spacingAndGlyphs">bq_get_data_distinct_tags_from_unpivoted_data_subset_facility_train_model_reconstruction_hptune_cn_fgc1_27b3b020330d473ea3d1a54de928e1e8_58_dense_task</text></g>
<g id="dense_r37" class="n py"><rect x="2068.1" y="1016.5" width="395.4" height="18"/><text x="2265.8" y="1027.7" textLength="385.4" lengthAdjust="spacingAndGlyphs">py_create_count_rows_facility_train_model_reconstruction_hptune_cn_fgc1_27b3b020330d473ea3d1a54de928e1e8_58_dense_task</text></g>
<g id="dense_r38" class="n bq"><rect x="2064.25" y="1040.4" width="403.1" height="18"/><text x="2265.8" y="1051.6" textLength="393.1" lengthAdjust="spacingAndGlyphs">bq_get_data_count_rows_facility_train_model_reconstruction_hptune_cn_fgc1_27b3b020330d473ea3d1a54de928e1e8_58_dense_task</text></g>
<g id="dense_r39" class="n py"><rect x="2044.9" y="1064.4" width="441.8" height="18"/><text x="2265.8" y="1075.6" textLength="431.8" lengthAdjust="spacingAndGlyphs">py_get_training_args_and_run_training_facility_train_model_reconstruction_hptune_cn_fgc1_27b3b020330d473ea3d1a54de928e1e8_58_dense_task</text></g>
<g id="dense_r40" class="n bq"><rect x="2030.5" y="1088.3" width="470.6" height="18"/><text x="2265.8" y="1099.5" textLength="460.6" lengthAdjust="spacingAndGlyphs">bq_get_data_distinct_tags_from_unpivoted_data_subset_facility_train_model_reconstruction_cn_fgc1_27b3b020330d473ea3d1a54de928e1e8_58_dense_task</text></g>
<g id="dense_r41" class="n py"><rect x="2079.8" y="1112.2" width="372" height="18"/><text x="2265.8" y="1123.4" textLength="362" lengthAdjust="spacingAndGlyphs">py_create_count_rows_facility_train_model_reconstruction_cn_fgc1_27b3b020330d473ea3d1a54de928e1e8_58_dense_task</text></g>
<g id="dense_r42" class="n bq"><rect x="2076.3" y="1136.2" width="379" height="18"/><text x="2265.8" y="1147.4" textLength="369" lengthAdjust="spacingAndGlyphs">bq_get_data_count_rows_facility_train_model_reconstruction_cn_fgc1_27b3b020330d473ea3d1a54de928e1e8_58_dense_task</text></g>
<g id="dense_r43" class="n py"><rect x="2056.6" y="1160.1" width="418.4" height="18"/><text x="2265.8" y="1171.3" textLength="408.4" lengthAdjust="spacingAndGlyphs">py_get_training_args_and_run_training_facility_train_model_reconstruction_cn_fgc1_27b3b020330d473ea3d1a54de928e1e8_58_dense_task</text></g>
<g id="dense_r44" class="n bq"><rect x="2012.3" y="1184.1" width="507" height="18"/><text x="2265.8" y="1195.3" textLength="497" lengthAdjust="spacingAndGlyphs">bq_get_data_distinct_tags_from_unpivoted_data_subset_facility_train_model_calculate_error_distribution_cn_fgc1_27b3b020330d473ea3d1a54de928e1e8_58_dense_task</text></g>
<g id="dense_r45" class="n py"><rect x="2061.6" y="1208" width="408.4" height="18"/><text x="2265.8" y="1219.2" textLength="398.4" lengthAdjust="spacingAndGlyphs">py_create_count_rows_facility_train_model_calculate_error_distribution_cn_fgc1_27b3b020330d473ea3d1a54de928e1e8_58_dense_task</text></g>
<g id="dense_r46" class="n bq"><rect x="2057.5" y="1231.9" width="416.6" height="18"/><text x="2265.8" y="1243.1" textLength="406.6" lengthAdjust="spacingAndGlyphs">bq_get_data_count_rows_facility_train_model_calculate_error_distribution_cn_fgc1_27b3b020330d473ea3d1a54de928e1e8_58_dense_task</text></g>
<g id="dense_r47" class="n py"><rect x="2038.15" y="1255.9" width="455.3" height="18"/><text x="2265.8" y="1267.1" textLength="445.3" lengthAdjust="spacingAndGlyphs">py_get_training_args_and_run_training_facility_train_model_calculate_error_distribution_cn_fgc1_27b3b020330d473ea3d1a54de928e1e8_58_dense_task</text></g>
<g id="dense_r48" class="n bq"><rect x="2014.7" y="1279.8" width="502.2" height="18"/><text x="2265.8" y="1291" textLength="492.2" lengthAdjust="spacingAndGlyphs">bq_get_data_distinct_tags_from_unpivoted_data_subset_facility_train_model_tune_anomaly_thresholds_cn_fgc1_27b3b020330d473ea3d1a54de928e1e8_58_dense_task</text></g>
<g id="dense_r49" class="n py"><rect x="2063.95" y="1303.8" width="403.7" height="18"/><text x="2265.8" y="1315" textLength="393.7" lengthAdjust="spacingAndGlyphs">py_create_count_rows_facility_train_model_tune_anomaly_thresholds_cn_fgc1_27b3b020330d473ea3d1a54de928e1e8_58_dense_task</text></g>
<g id="dense_r50" class="n bq"><rect x="2059.85" y="1327.7" width="411.9" height="18"/><text x="2265.8" y="1338.9" textLength="401.9" lengthAdjust="spacingAndGlyphs">bq_get_data_count_rows_facility_train_model_tune_anomaly_thresholds_cn_fgc1_27b3b020330d473ea3d1a54de928e1e8_58_dense_task</text></g>
<g id="dense_r51" class="n py"><rect x="2040.5" y="1351.6" width="450.6" height="18"/><text x="2265.8" y="1362.8" textLength="440.6" lengthAdjust="spacingAndGlyphs">py_get_training_args_and_run_training_facility_train_model_tune_anomaly_thresholds_cn_fgc1_27b3b020330d473ea3d1a54de928e1e8_58_dense_task</text></g>
<g id="dense_r52" class="n sh"><rect x="2049.9" y="1375.6" width="431.8" height="18"/><text x="2265.8" y="1386.8" textLength="421.8" lengthAdjust="spacingAndGlyphs">bash_remove_old_saved_model_facility_train_model_tune_anomaly_thresholds_cn_fgc1_27b3b020330d473ea3d1a54de928e1e8_58_dense_task</text></g>
<g id="dense_r53" class="n sh"><rect x="2052.2" y="1399.5" width="427.2" height="18"/><text x="2265.8" y="1410.7" textLength="417.2" lengthAdjust="spacingAndGlyphs">bash_copy_new_saved_model_facility_train_model_tune_anomaly_thresholds_cn_fgc1_27b3b020330d473ea3d1a54de928e1e8_58_dense_task</text></g>
<g id="dense_kube_distinct" class="n bq"><rect x="1782.95" y="1423.5" width="483.5" height="18"/><text x="2024.7" y="1434.7" textLength="473.5" lengthAdjust="spacingAndGlyphs">bq_get_data_distinct_tags_from_unpivoted_data_subset_facility_train_model_kube_deployments_cn_fgc1_27b3b020330d473ea3d1a54de928e1e8_58_dense_task</text></g>
<g id="dense_ml_engine" class="n ml"><rect x="2274" y="1423.5" width="399.6" height="18"/><text x="2473.8" y="1434.7" textLength="389.6" lengthAdjust="spacingAndGlyphs">ml_engine_test_batch_prediction_facility_train_model_batch_predict_cn_fgc1_27b3b020330d473ea3d1a54de928e1e8_58_dense_task</text></g>
<g id="dense_threshold" class="n bq"><rect x="1839.85" y="1447.4" width="369.7" height="18"/><text x="2024.7" y="1458.6" textLength="359.7" lengthAdjust="spacingAndGlyphs">bq_get_threshold_facility_train_model_kube_deployments_cn_fgc1_27b3b020330d473ea3d1a54de928e1e8_58_dense_task</text></g>
<g id="dense_operation" class="n bq"><rect x="1839.85" y="1471.3" width="369.7" height="18"/><text x="2024.7" y="1482.5" textLength="359.7" lengthAdjust="spacingAndGlyphs">bq_get_operation_facility_train_model_kube_deployments_cn_fgc1_27b3b020330d473ea3d1a54de928e1e8_58_dense_task</text></g>
<g id="dense_training_args" class="n bq"><rect x="1826.4" y="1495.3" width="396.6" height="18"/><text x="2024.7" y="1506.5" textLength="386.6" lengthAdjust="spacingAndGlyphs">bq_get_data_training_args_facility_train_model_kube_deployments_cn_fgc1_27b3b020330d473ea3d1a54de928e1e8_58_dense_task</text></g>
<g id="dense_component_config" class="n py"><rect x="1838.1" y="1519.2" width="373.2" height="18"/><text x="2024.7" y="1530.4" textLength="363.2" lengthAdjust="spacingAndGlyphs">component_config_facility_train_model_kube_deployments_cn_fgc1_27b3b020330d473ea3d1a54de928e1e8_58_dense_task</text></g>
<g id="dense_trigger_serving" class="n py"><rect x="1838.1" y="1543.2" width="373.2" height="18"/><text x="2024.7" y="1554.4" textLength="363.2" lengthAdjust="spacingAndGlyphs">py_trigger_serving_facility_train_model_kube_deployments_cn_fgc1_27b3b020330d473ea3d1a54de928e1e8_58_dense_task</text></g>
</g>
<g id="end_train" class="n dm"><rect x="1239.15" y="1567.1" width="268.1" height="18"/><text x="1373.2" y="1578.3" textLength="258.1" lengthAdjust="spacingAndGlyphs">end_train_facility_train_model_cn_fgc1_27b3b020330d473ea3d1a54de928e1e8_58_task</text></g>
<g id="set_job_status_complete_task" class="n dm"><rect x="1246.15" y="1591" width="254.1" height="18"/><text x="1373.2" y="1602.2" textLength="244.1" lengthAdjust="spacingAndGlyphs">set_job_status_complete_task_cn_fgc1_27b3b020330d473ea3d1a54de928e1e8_58</text></g>
</svg>
